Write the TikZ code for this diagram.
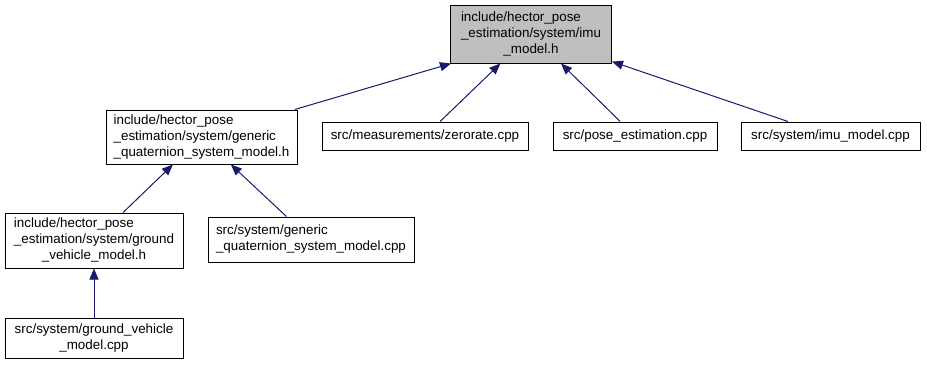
\documentclass[tikz,border=0pt]{standalone}
\usepackage{fontspec}
\usepackage{tikz}
\usetikzlibrary{arrows.meta}
\newfontfamily\dotfont{Liberation Sans}
\definecolor{edgeblue}{RGB}{25,25,112}
\definecolor{boxgrey}{RGB}{191,191,191}
% multi-line file label: left aligned lines, last line centred
\newcommand{\flabel}[2]{\begin{tabular}{@{}l@{}}#1\\\multicolumn{1}{@{}c@{}}{#2}\end{tabular}}
\tikzset{
  file/.style={draw=black, line width=1pt, inner sep=0pt, fill=white,
    font=\dotfont\fontsize{13.4}{16}\selectfont},
  dep/.style={draw=edgeblue, line width=1pt,
    {Triangle[length=11pt,width=9pt]}-}
}

\begin{document}
\begin{tikzpicture}[x=1pt,y=-1pt]
    \useasboundingbox (0,0) rectangle (927,365);
    % header in question
    \node[file, fill=boxgrey, minimum width=161pt, minimum height=58pt] (imuh) at (531,34)
      {\flabel{include/hector\_pose\\\_estimation/system/imu}{\_model.h}};
    % files including it
    \node[file, minimum width=191pt, minimum height=54pt] (gqh) at (201.5,137)
      {\flabel{include/hector\_pose\\\_estimation/system/generic}{\_quaternion\_system\_model.h}};
    \node[file, minimum width=206pt, minimum height=28pt] (zero) at (425,136)
      {src/measurements/zerorate.cpp};
    \node[file, minimum width=164pt, minimum height=28pt] (pose) at (635,136)
      {src/pose\_estimation.cpp};
    \node[file, minimum width=179pt, minimum height=28pt] (imucpp) at (830.5,136)
      {src/system/imu\_model.cpp};
    \node[file, minimum width=178pt, minimum height=55pt] (gvh) at (94,240.5)
      {\flabel{include/hector\_pose\\\_estimation/system/ground}{\_vehicle\_model.h}};
    \node[file, minimum width=206pt, minimum height=45pt] (gqcpp) at (311,239.5)
      {\flabel{src/system/generic}{\_quaternion\_system\_model.cpp}};
    \node[file, minimum width=178pt, minimum height=40pt] (gvcpp) at (94,338)
      {\flabel{src/system/ground\_vehicle}{\_model.cpp}};
    % include edges
    \draw[dep] ([xshift=1pt]imuh.south west) -- (gqh);
    \draw[dep] (imuh) -- (zero);
    \draw[dep] (imuh) -- (pose);
    \draw[dep] (imuh) -- (imucpp);
    \draw[dep] (gqh) -- (gvh);
    \draw[dep] (gqh) -- (gqcpp);
    \draw[dep] (gvh) -- (gvcpp);
\end{tikzpicture}
\end{document}
